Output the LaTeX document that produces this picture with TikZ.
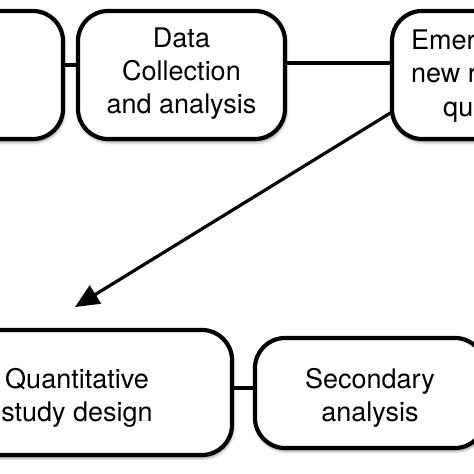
\documentclass[tikz,border=0pt]{standalone}
\usepackage{fontspec}
\setmainfont{TeX Gyre Heros}
\usetikzlibrary{arrows.meta,shadows.blur}
\begin{document}
\begin{tikzpicture}[x=1bp,y=-1bp,
  box/.style={draw=black, line width=4.2bp, fill=white, rounded corners=30bp,
    inner sep=0pt, outer sep=0pt,
    blur shadow={shadow xshift=1bp, shadow yshift=-3bp, shadow blur radius=3bp, shadow opacity=45}},
  txt/.style={font=\fontsize{27bp}{33bp}\selectfont, align=center, inner sep=0pt},
  frag/.style={font=\fontsize{27bp}{33bp}\selectfont, anchor=base west, inner sep=0pt},
  conn/.style={line width=4bp},
  arr/.style={line width=3.2bp, -{Triangle[length=24bp,width=21bp]}}]
\useasboundingbox (0,0) rectangle (474,474);
% boxes
\node[box, minimum width=246bp, minimum height=128bp] (lbox) at (-60,75) {};
\node[box, minimum width=207bp, minimum height=128bp] (data) at (181.5,75) {};
\node[box, minimum width=212bp, minimum height=128bp] (emerg) at (498,75) {};
\node[box, minimum width=310bp, minimum height=125bp] (quant) at (77,392.5) {};
\node[box, minimum width=230bp, minimum height=110bp] (second) at (370,393) {};
% texts
\node[txt] (dataT) at (181.5,73.2) {Data\\Collection\\and analysis};
\node[frag] (em1) at (411,50) {Emer};
\node[frag] (em2) at (411,83) {new r};
\node[frag] (em3) at (443,117) {qu};
\node[txt] (quantT) at (77,398) {Quantitative\\study design};
\node[txt] (secondT) at (370,397.5) {Secondary\\analysis};
% connectors
\draw[conn] (lbox.east |- 0,65) -- (data.west |- 0,65);
\draw[conn] (data.east |- 0,63) -- (emerg.west |- 0,63);
\draw[conn] (quant.east |- 0,388) -- (second.west |- 0,388);
\coordinate (tip) at (75,307);
\draw[arr] (emerg.west |- 0,112) -- (tip);
\end{tikzpicture}
\end{document}
